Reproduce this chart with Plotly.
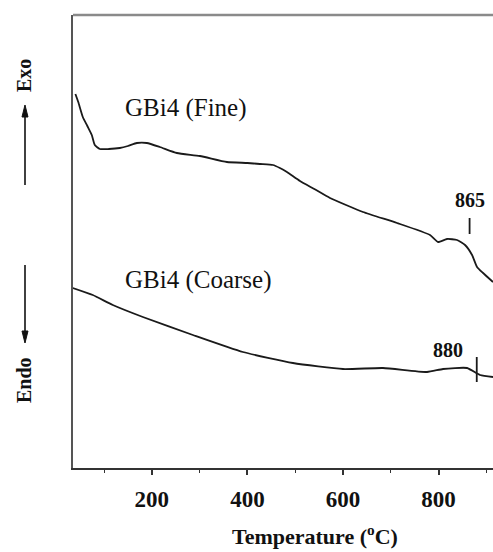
import plotly.graph_objects as go

# DTA traces (temperature in °C, signal in arbitrary units)
fine_temp = [40, 46, 55.5, 65, 74.3, 80.6, 91.1, 110, 133, 150, 168.6, 189.5, 216.8, 252.4,
             300.5, 357.1, 400, 426.2, 453.4, 468, 482.7, 510, 540, 572.8, 641.9, 713.1,
             782.2, 799, 817.8, 838.7, 855.5, 870.2, 880.6, 893.2, 914]
fine_signal = [37.4, 36.6, 35.1, 34.2, 33.3, 32.3, 31.9, 31.9, 32.0, 32.2, 32.5, 32.5, 32.1, 31.5,
               31.2, 30.6, 30.5, 30.4, 30.3, 30.0, 29.6, 28.7, 27.9, 27.0, 25.6, 24.5,
               23.3, 22.6, 22.9, 22.8, 22.3, 21.3, 20.1, 19.5, 18.6]

coarse_temp = [34.6, 76.4, 118.3, 181.2, 285.9, 390.6, 495.3, 600, 683.8, 775.9, 809.4,
               859.7, 886.9, 914]
coarse_signal = [18.0, 17.3, 16.3, 15.1, 13.3, 11.6, 10.5, 9.9, 10.0, 9.6, 9.9,
                 10.0, 9.3, 9.1]

# Peak markers: temperature and vertical extent of each marker line
peak_fine = 865
peak_fine_span = [23.4, 25.0]
peak_coarse = 880
peak_coarse_span = [8.6, 11.1]

x_range = [35, 914]
y_range = [0, 45.3]
major_ticks = [200, 400, 600, 800]

serif = "Liberation Serif, Times New Roman, serif"
ink = "#1a1a1a"

# plot-area geometry in pixels (used to place side decorations in paper units)
PL, PR, PT, PB = 73, 493, 15, 468
def px(xp):
    return (xp - PL) / (PR - PL)
def py(yp):
    return (PB - yp) / (PB - PT)

fig = go.Figure()
for xs, ys in [(fine_temp, fine_signal), (coarse_temp, coarse_signal)]:
    fig.add_trace(go.Scatter(x=xs, y=ys, mode="lines",
                             line=dict(color=ink, width=1.8, shape="spline", smoothing=0.5),
                             showlegend=False))
fig.add_trace(go.Scatter(x=[peak_fine, peak_fine], y=peak_fine_span, mode="lines",
                         line=dict(color=ink, width=1.8), showlegend=False))
fig.add_trace(go.Scatter(x=[peak_coarse, peak_coarse], y=peak_coarse_span, mode="lines",
                         line=dict(color=ink, width=1.8), showlegend=False))

annotations = [
    dict(x=139, y=36.0, xref="x", yref="y", text="GBi4 (Fine)", showarrow=False,
         xanchor="left", yanchor="middle", font=dict(family=serif, size=25, color="#111")),
    dict(x=139, y=18.8, xref="x", yref="y", text="GBi4 (Coarse)", showarrow=False,
         xanchor="left", yanchor="middle", font=dict(family=serif, size=25, color="#111")),
    dict(x=peak_fine, y=26.8, xref="x", yref="y", text="<b>%d</b>" % peak_fine, showarrow=False,
         xanchor="center", yanchor="middle", font=dict(family=serif, size=20, color="#111")),
    dict(x=peak_coarse, y=11.8, xref="x", yref="y", text="<b>%d</b>" % peak_coarse, showarrow=False,
         xanchor="right", yanchor="middle", xshift=-12, font=dict(family=serif, size=20, color="#111")),
    # axis title
    dict(x=px(315), y=py(535), xref="paper", yref="paper",
         text="<b>Temperature (<sup>o</sup>C)</b>", showarrow=False,
         xanchor="center", yanchor="middle", font=dict(family=serif, size=22, color="#111")),
    # Exo / Endo direction labels
    dict(x=px(24), y=py(76), xref="paper", yref="paper",
         text="<b>Exo</b>", textangle=-90, showarrow=False,
         xanchor="center", yanchor="middle", font=dict(family=serif, size=20, color="#111")),
    dict(x=px(24), y=py(380), xref="paper", yref="paper",
         text="<b>Endo</b>", textangle=-90, showarrow=False,
         xanchor="center", yanchor="middle", font=dict(family=serif, size=20, color="#111")),
]

def arrow_shapes(xp, y_tail, y_head):
    d = 1 if y_head > y_tail else -1  # +1 means pointing down (pixel y grows downward)
    hx, hl = 3.0, 12.0
    line = dict(type="line", xref="paper", yref="paper",
                x0=px(xp), x1=px(xp), y0=py(y_tail), y1=py(y_head - d * hl * 0.6),
                line=dict(color="#111", width=1.6))
    head = dict(type="path", xref="paper", yref="paper",
                path="M %f %f L %f %f L %f %f Z" % (
                    px(xp), py(y_head),
                    px(xp - hx), py(y_head - d * hl),
                    px(xp + hx), py(y_head - d * hl)),
                fillcolor="#111", line=dict(color="#111", width=1))
    return [line, head]

shapes = [dict(type="line", xref="paper", yref="paper", x0=0, x1=1, y0=1, y1=1,
               line=dict(color="#8a8a8a", width=2.5))]
shapes += arrow_shapes(25, 185, 105)
shapes += arrow_shapes(25, 265, 343)

fig.update_layout(
    width=493, height=552,
    margin=dict(l=PL, r=493 - PR, t=PT, b=552 - PB),
    paper_bgcolor="white", plot_bgcolor="white",
    annotations=annotations,
    shapes=shapes,
    xaxis=dict(range=x_range, tickvals=major_ticks, ticktext=[str(v) for v in major_ticks],
               ticks="outside", ticklen=5, tickwidth=1.5, tickcolor="#333",
               minor=dict(dtick=100, tick0=0, ticks="outside", ticklen=3, tickwidth=1.2,
                          tickcolor="#333"),
               showline=True, linecolor="#333", linewidth=2, showgrid=False, zeroline=False,
               tickfont=dict(family=serif, size=23, color="#111", weight="bold"),
               ticklabelstandoff=4),
    yaxis=dict(range=y_range, showticklabels=False, ticks="", showline=True,
               linecolor="#555", linewidth=2, showgrid=False, zeroline=False),
)

fig.write_html("out.html")
